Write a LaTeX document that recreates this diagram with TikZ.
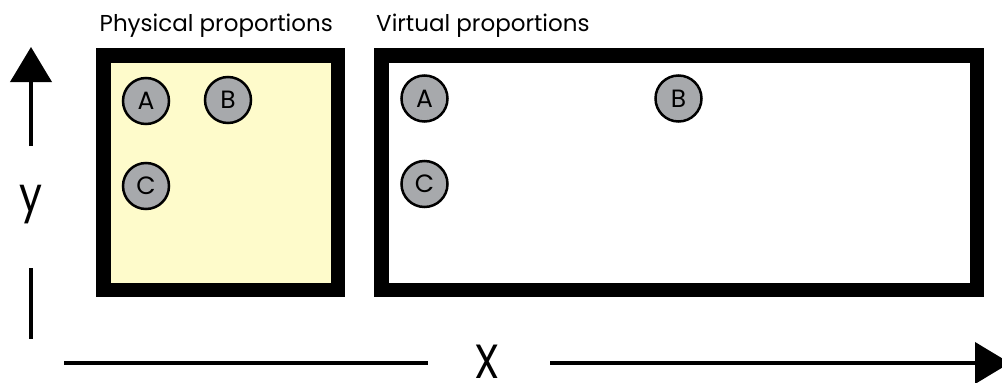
\documentclass[tikz,border=0pt]{standalone}
\usepackage{fontspec}
\setmainfont{Poppins}
\usetikzlibrary{arrows.meta}
\definecolor{paper}{HTML}{FEFBCB}
\definecolor{marker}{HTML}{A7A9AC}
\begin{document}
\begin{tikzpicture}[x=1pt,y=-1pt,
  frame/.style={draw=black,line width=14.5pt,inner sep=0pt,outer sep=0pt,anchor=center},
  dot/.style={circle,draw=black,line width=2.5pt,fill=marker,minimum size=46pt,inner sep=0pt,font=\fontsize{25}{25}\selectfont},
  caption/.style={anchor=base west,inner sep=0pt,font=\fontsize{23}{23}\selectfont},
  axis/.style={line width=4pt},
  axislabel/.style={inner sep=0pt,text height=34pt,text depth=0pt,font=\fontsize{48}{48}\selectfont}]
\useasboundingbox (0,0) rectangle (1002,383);
\fill[white] (0,0) rectangle (1002,383);

% the two frames
\node[frame,fill=paper,minimum width=234.5pt,minimum height=234.5pt] (phys) at (220.5,172.5) {};
\node[frame,fill=white,minimum width=595.5pt,minimum height=234.5pt] (virt) at (679,172.5) {};

% captions
\node[caption] (physcap) at (99.5,31.5) {Physical proportions};
\node[caption] (virtcap) at (376,31.5) {Virtual proportions};

% markers, physical layout
\node[dot] (pa) at (146,101) {A};
\node[dot] (pb) at (228,100) {B};
\node[dot] (pc) at (146,186) {C};
% markers, virtual layout
\node[dot] (va) at (424.5,98.5) {A};
\node[dot] (vb) at (678.5,98.5) {B};
\node[dot] (vc) at (424.5,184) {C};

% vertical axis
\coordinate (ylow) at (31,146);
\coordinate (ytip) at (31,47);
\coordinate (ybot1) at (31,268);
\coordinate (ybot2) at (31,339);
\node[axislabel,anchor=base,xscale=0.85] (ylab) at (31,211) {y};
\draw[axis,-{Triangle[width=41pt,length=35pt]}] (ylow) -- (ytip);
\draw[axis] (ybot1) -- (ybot2);

% horizontal axis
\coordinate (xl1) at (64,363);
\coordinate (xl2) at (428,363);
\coordinate (xr1) at (550,363);
\coordinate (xtip) at (1010,363);
\node[axislabel,anchor=base,xscale=0.85] (xlab) at (487.5,378) {X};
\draw[axis] (xl1) -- (xl2);
\draw[axis,-{Triangle[width=41pt,length=35pt]}] (xr1) -- (xtip);
\end{tikzpicture}
\end{document}
